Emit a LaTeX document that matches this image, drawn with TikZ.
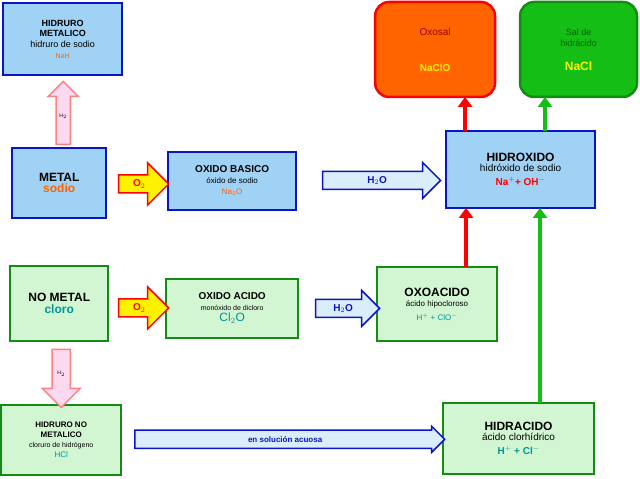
\documentclass[tikz,border=0pt]{standalone}
\usepackage{fontspec}
\setmainfont{Liberation Sans}
\usetikzlibrary{shapes.arrows,arrows.meta}
\definecolor{lblue}{RGB}{160,210,245}
\definecolor{dblue}{RGB}{10,20,200}
\definecolor{lgreen}{RGB}{210,245,210}
\definecolor{dgreen}{RGB}{20,140,20}
\definecolor{orng}{RGB}{255,100,0}
\definecolor{gr}{RGB}{20,190,20}
\definecolor{teal2}{RGB}{0,150,150}
\begin{document}
\begin{tikzpicture}[x=1pt,y=-1pt,
 bbox/.style={draw=dblue,line width=2.5pt,fill=lblue,align=center,inner sep=0pt},
 gbox/.style={draw=dgreen,line width=2.5pt,fill=lgreen,align=center,inner sep=0pt},
 oarrow/.style={single arrow,draw=red,line width=1.5pt,fill=yellow,minimum height=50pt,minimum width=42pt,single arrow head extend=8pt,inner sep=1pt,font=\bfseries\normalsize,text=red},
 warrow/.style={single arrow,draw=dblue,line width=1.5pt,fill=lblue!40,inner sep=1pt,font=\bfseries\normalsize,text=dblue},
 parrow/.style={single arrow,draw=red!50,line width=1.5pt,fill=magenta!15,inner sep=1pt,font=\tiny,single arrow head extend=6pt},
 rarr/.style={-{Triangle[length=10pt,width=14pt]},line width=4pt,red},
 garr/.style={-{Triangle[length=10pt,width=14pt]},line width=4pt,gr}]
\fill[white] (0,0) rectangle (640,479);
\node[bbox,minimum width=119pt,minimum height=72pt] (hm) at (62.5,39) {\small\bfseries HIDRURO\\[-2pt]\small\bfseries METALICO\\[-1pt]\small hidruro de sodio\\[-1pt]{\scriptsize\color{orng}NaH}};
\node[bbox,minimum width=94pt,minimum height=70pt] (me) at (59,183) {\large\bfseries METAL\\{\large\bfseries\color{orng}sodio}};
\node[bbox,minimum width=128pt,minimum height=58pt] (ob) at (232,181) {\normalsize\bfseries OXIDO BASICO\\[-1pt]\footnotesize óxido de sodio\\[-1pt]{\footnotesize\color{orng}Na$_2$O}};
\node[bbox,minimum width=149pt,minimum height=77pt] (hx) at (520.5,169.5) {\large\bfseries HIDROXIDO\\[-2pt]\normalsize hidróxido de sodio\\[2pt]{\normalsize\bfseries\color{red}Na$^+$+ OH$^-$}};
\node[draw=red,line width=2.5pt,fill=orng,rounded corners=14pt,minimum width=120pt,minimum height=95pt,align=center] (os) at (435,49.5) {\normalsize\color{red!60!black}Oxosal\\[24pt]\normalsize\bfseries\color{yellow}NaClO};
\node[draw=dgreen,line width=2.5pt,fill=gr,rounded corners=14pt,minimum width=117pt,minimum height=95pt,align=center] (sh) at (578.5,49.5) {\small\color{green!40!black}Sal de\\[-1pt]\small\color{green!40!black}hidrácido\\[12pt]\large\bfseries\color{yellow}NaCl};
\node[gbox,minimum width=98pt,minimum height=75pt] (nm) at (59,303.5) {\large\bfseries NO METAL\\{\large\bfseries\color{teal2}cloro}};
\node[gbox,minimum width=132pt,minimum height=59pt] (oa) at (232,308.5) {\normalsize\bfseries OXIDO ACIDO\\[-1pt]\scriptsize monóxido de dicloro\\[-1pt]{\large\color{teal2}Cl$_2$O}};
\node[gbox,minimum width=120pt,minimum height=74pt] (ox) at (437,304) {\large\bfseries OXOACIDO\\[-2pt]\footnotesize ácido hipocloroso\\[2pt]{\footnotesize\color{teal2}H$^+$ + ClO$^-$}};
\node[gbox,minimum width=120pt,minimum height=70pt] (hn) at (61,440) {\footnotesize\bfseries HIDRURO NO\\[-2pt]\footnotesize\bfseries METALICO\\[-2pt]\scriptsize cloruro de hidrógeno\\[-2pt]{\footnotesize\color{teal2}HCl}};
\node[gbox,minimum width=151pt,minimum height=71pt] (hc) at (518.5,438.5) {\large\bfseries HIDRACIDO\\[-2pt]\normalsize ácido clorhídrico\\[2pt]{\normalsize\bfseries\color{teal2}H$^+$ + Cl$^-$}};
% O2 arrows
\node[oarrow] (a1) at (139,184) {O$_2$\hspace{4pt}};
\node[oarrow] (a2) at (139,308) {O$_2$\hspace{4pt}};
% water arrows
\node[warrow,minimum height=118pt,minimum width=36pt,single arrow head extend=6pt] (w1) at (377,180.5) {H$_2$O\hspace{30pt}};
\node[warrow,minimum height=64pt,minimum width=36pt,single arrow head extend=6pt] (w2) at (343,308.5) {H$_2$O\hspace{10pt}};
\node[warrow,minimum height=310pt,minimum width=26pt,single arrow head extend=2pt,font=\bfseries\footnotesize] (w3) at (285,439.5) {en solución acuosa\hspace{60pt}};
% pink arrows
\node[parrow,rotate=90,minimum height=63pt,minimum width=30pt] (p1) at (63,116.5) {\rotatebox{-90}{H$_2$}};
\node[parrow,rotate=-90,minimum height=58pt,minimum width=38pt] (p2) at (61,374) {\rotatebox{90}{H$_2$}};
% connectors
\coordinate (r1) at (465,131);
\coordinate (r2) at (465,97);
\coordinate (g1) at (545,131);
\coordinate (g2) at (545,97);
\coordinate (r3) at (466,267);
\coordinate (r4) at (466,208);
\coordinate (g3) at (540,403);
\coordinate (g4) at (540,208);
\draw[rarr] (r1) -- (r2);
\draw[garr] (g1) -- (g2);
\draw[rarr] (r3) -- (r4);
\draw[garr] (g3) -- (g4);
\end{tikzpicture}
\end{document}
